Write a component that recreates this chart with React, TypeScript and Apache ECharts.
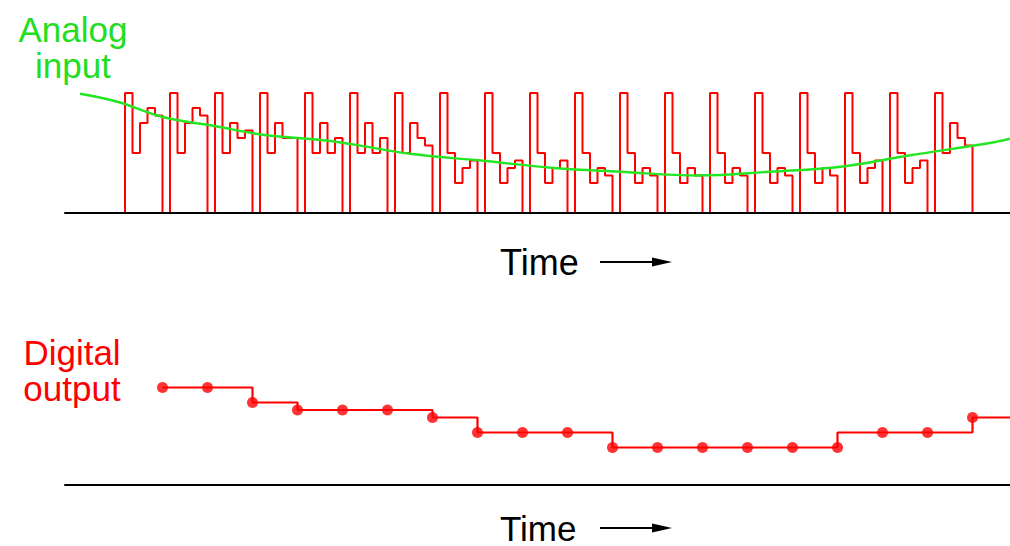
import React, { useEffect, useRef } from "react";
import * as echarts from "echarts";

// Each conversion cycle: five successive-approximation trial levels (then a reset to 0)
const cycleSteps: number[][] = [
  [16, 8, 12, 14, 13],
  [16, 8, 12, 14, 13],
  [16, 8, 12, 10, 11],
  [16, 8, 12, 10, 10],
  [16, 8, 12, 8, 10],
  [16, 8, 12, 8, 10],
  [16, 8, 12, 10, 9],
  [16, 8, 4, 6, 7],
  [16, 8, 4, 6, 7],
  [16, 8, 4, 6, 7],
  [16, 8, 4, 6, 5],
  [16, 8, 4, 6, 5],
  [16, 8, 4, 6, 5],
  [16, 8, 4, 6, 5],
  [16, 8, 4, 6, 5],
  [16, 8, 4, 6, 5],
  [16, 8, 4, 6, 7],
  [16, 8, 4, 6, 7],
  [16, 8, 12, 10, 9],
];

// Digital output codes (one dot per conversion)
const digitalCodes = [13, 13, 11, 10, 10, 10, 9, 7, 7, 7, 5, 5, 5, 5, 5, 5, 7, 7, 9];
// Level of the output line drawn after each dot (as drawn in the picture)
const segmentCodes = [13, 13, 11, 10, 10, 10, 9, 7, 7, 7, 5, 5, 5, 5, 5, 7, 7, 7, 9];

// Analog input curve (time in sub-step units, level in LSB units)
const analogTime = [-6, -0.9, 5, 11.9, 18.6, 27.4, 38, 47.4, 57.2, 66, 76.4, 86, 95.7, 104.7, 115.1, 118];
const analogLevel = [15.9, 14.8, 12.8, 11.6, 10.4, 9.6, 7.9, 7.0, 6.0, 5.5, 5.0, 5.5, 6.2, 7.7, 9.3, 9.9];

const STEPS_PER_CYCLE = 6;
const X_MIN = -8;
const X_MAX = 118;

export default function App() {
  const ref = useRef<HTMLDivElement>(null);
  useEffect(() => {
    if (!ref.current) return;
    const chart = echarts.init(ref.current, undefined, { renderer: "svg" });

    const redData: number[][] = [[0, 0]];
    cycleSteps.forEach((steps, i) => {
      steps.forEach((v, j) => redData.push([i * STEPS_PER_CYCLE + j, v]));
      redData.push([i * STEPS_PER_CYCLE + 5, 0]);
    });
    redData.push([cycleSteps.length * STEPS_PER_CYCLE, 0]);

    const dots = digitalCodes.map((v, k) => [5 + STEPS_PER_CYCLE * k, v]);
    const digitalLine: number[][] = [];
    dots.forEach((d, k) => {
      digitalLine.push([d[0], d[1]]);
      digitalLine.push([d[0], segmentCodes[k]]);
    });
    digitalLine.push([X_MAX, segmentCodes[segmentCodes.length - 1]]);

    const analog = analogTime.map((t, i) => [t, analogLevel[i]]);

    const font = "'Liberation Sans', Arial, Helvetica, sans-serif";
    const xAxisBase = {
      type: "value" as const,
      min: X_MIN,
      max: X_MAX,
      z: 5,
      axisLine: { show: true, onZero: false, lineStyle: { color: "#000", width: 2 } },
      axisTick: { show: false },
      axisLabel: { show: false },
      splitLine: { show: false },
    };
    const yAxisBase = {
      type: "value" as const,
      min: 0,
      max: 16,
      show: false,
    };

    const arrow = (y: number) => [
      {
        type: "line",
        shape: { x1: 600, y1: y, x2: 660, y2: y },
        style: { stroke: "#000", lineWidth: 2 },
      },
      {
        type: "polygon",
        shape: { points: [[652, y - 4.5], [672, y], [652, y + 4.5]] },
        style: { fill: "#000" },
      },
    ];

    chart.setOption({
      animation: false,
      backgroundColor: "#fff",
      grid: [
        { left: 65, top: 93, width: 945, height: 120 },
        { left: 65, top: 365, width: 945, height: 120 },
      ],
      xAxis: [
        { ...xAxisBase, gridIndex: 0 },
        { ...xAxisBase, gridIndex: 1 },
      ],
      yAxis: [
        { ...yAxisBase, gridIndex: 0 },
        { ...yAxisBase, gridIndex: 1 },
      ],
      series: [
        {
          type: "line",
          xAxisIndex: 0,
          yAxisIndex: 0,
          data: redData,
          step: "end",
          showSymbol: false,
          lineStyle: { color: "#ff0000", width: 2 },
          z: 2,
        },
        {
          type: "line",
          xAxisIndex: 0,
          yAxisIndex: 0,
          data: analog,
          smooth: 0.4,
          showSymbol: false,
          lineStyle: { color: "#22e622", width: 2.4 },
          z: 3,
        },
        {
          type: "line",
          xAxisIndex: 1,
          yAxisIndex: 1,
          data: digitalLine,
          step: "end",
          showSymbol: false,
          lineStyle: { color: "#ff0000", width: 2.2 },
        },
        {
          type: "scatter",
          xAxisIndex: 1,
          yAxisIndex: 1,
          data: dots,
          symbolSize: 11,
          itemStyle: { color: "#ff0000" },
          z: 4,
        },
      ],
      graphic: [
        {
          type: "text",
          x: 73,
          y: 47,
          style: {
            text: "Analog\ninput",
            fill: "#22dd22",
            font: `35px ${font}`,
            lineHeight: 36,
            textAlign: "center",
            textVerticalAlign: "middle",
          },
        },
        {
          type: "text",
          x: 72,
          y: 370,
          style: {
            text: "Digital\noutput",
            fill: "#ff0000",
            font: `35px ${font}`,
            lineHeight: 36,
            textAlign: "center",
            textVerticalAlign: "middle",
          },
        },
        {
          type: "text",
          x: 500,
          y: 262,
          style: { text: "Time", fill: "#000", font: `36px ${font}`, lineHeight: 30, textAlign: "left", textVerticalAlign: "middle" },
        },
        {
          type: "text",
          x: 500,
          y: 528,
          style: { text: "Time", fill: "#000", font: `35px ${font}`, lineHeight: 30, textAlign: "left", textVerticalAlign: "middle" },
        },
        ...arrow(262),
        ...arrow(528),
      ],
    });
    return () => chart.dispose();
  }, []);
  return (
    <div
      ref={ref}
      style={{ position: "fixed", left: 0, top: 0, width: 1010, height: 546 }}
    />
  );
}
